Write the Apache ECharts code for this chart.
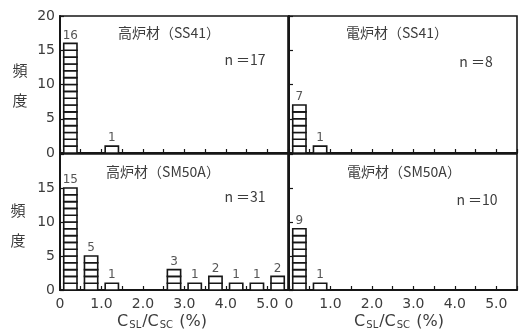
<!DOCTYPE html>
<html>
<head>
<meta charset="utf-8">
<script src="https://cdn.jsdelivr.net/npm/echarts@6/dist/echarts.min.js"></script>
<style>
  html, body { margin: 0; padding: 0; background: #fff; }
  #chart { width: 521px; height: 333px; }
</style>
</head>
<body>
<div id="chart"></div>
<script>
// Frequency per 0.5 % bin: [bin centre, count]
const blastSS41 = [[0.25, 16], [1.25, 1]];
const electricSS41 = [[0.25, 7], [0.75, 1]];
const blastSM50A = [[0.25, 15], [0.75, 5], [1.25, 1], [2.75, 3], [3.25, 1], [3.75, 2], [4.25, 1], [4.75, 1], [5.25, 2]];
const electricSM50A = [[0.25, 9], [0.75, 1]];

const panelTitles = ['高炉材（SS41）', '電炉材（SS41）', '高炉材（SM50A）', '電炉材（SM50A）'];
const sampleCounts = [17, 8, 31, 10];
const yTicks = [0, 5, 10, 15, 20];
const xLabelValues = [0, 1, 2, 3, 4, 5];

const panels = [blastSS41, electricSS41, blastSM50A, electricSM50A];

const INK = '#161616';
const TEXT = '#3c3c3c';
const FONT = '"DejaVu Sans", sans-serif';
const CJK = '"Noto Sans CJK JP", sans-serif';

const grids = [
  { left: 60, top: 16, width: 228, height: 137 },
  { left: 289, top: 16, width: 228, height: 137 },
  { left: 60, top: 154, width: 228, height: 136 },
  { left: 289, top: 154, width: 228, height: 136 }
].map(g => Object.assign(g, { show: true, borderColor: INK, borderWidth: 1.6, backgroundColor: 'transparent' }));

// Each count is drawn as one stacked box, so bars read as tally columns
function renderTally(params, api) {
  const x = api.value(0);
  const n = api.value(1);
  const hw = 0.16;
  const children = [];
  for (let k = 0; k < n; k++) {
    const a = api.coord([x - hw, k + 1]);
    const b = api.coord([x + hw, k]);
    children.push({
      type: 'rect',
      shape: { x: a[0], y: a[1], width: b[0] - a[0], height: b[1] - a[1] },
      style: { fill: '#fff', stroke: INK, lineWidth: 1.6 }
    });
  }
  const top = api.coord([x, n]);
  children.push({
    type: 'text',
    style: {
      text: String(n), x: top[0], y: top[1] - 2,
      align: 'center', verticalAlign: 'bottom',
      fill: '#555', font: '12px ' + FONT
    }
  });
  return { type: 'group', children };
}

const xAxes = grids.map((g, i) => ({
  type: 'value', gridIndex: i, min: 0, max: 5.5, interval: 0.5,
  axisLine: { show: true, lineStyle: { color: INK, width: 2 } },
  axisTick: { show: true, inside: true, length: 4, lineStyle: { color: INK, width: 1.2 } },
  splitLine: { show: false },
  axisLabel: {
    show: i >= 2, margin: 7, color: TEXT, fontSize: 14, fontFamily: FONT,
    formatter: v => xLabelValues.includes(v) ? (v === 0 ? '0' : v.toFixed(1)) : ''
  }
}));

const yAxes = grids.map((g, i) => ({
  type: 'value', gridIndex: i, min: 0, max: 20, interval: 5,
  axisLine: { show: true, lineStyle: { color: INK, width: 2 } },
  axisTick: { show: true, inside: true, length: 4, lineStyle: { color: INK, width: 1.2 } },
  splitLine: { show: false },
  axisLabel: {
    show: i % 2 === 0, margin: 5, color: TEXT, fontSize: 14, fontFamily: FONT,
    formatter: v => (i === 2 && v === 20) ? '' : (yTicks.includes(v) ? String(v) : '')
  }
}));

const series = panels.map((data, i) => ({
  type: 'custom', xAxisIndex: i, yAxisIndex: i,
  renderItem: renderTally, data, clip: false
}));

const titlePos = [[169, 33], [397, 33], [163, 172], [404, 172]];
const nPos = [[245, 60], [476, 62], [245, 197], [477, 200]];

const graphic = [];
panelTitles.forEach((t, i) => {
  graphic.push({
    type: 'text', x: titlePos[i][0], y: titlePos[i][1],
    style: { text: t, align: 'center', verticalAlign: 'middle', fill: TEXT, font: '14px ' + CJK }
  });
  graphic.push({
    type: 'text', x: nPos[i][0], y: nPos[i][1],
    style: { text: 'n ＝' + sampleCounts[i], align: 'center', verticalAlign: 'middle', fill: TEXT, font: '14px ' + CJK }
  });
});

// y-axis caption for each row
[[20, 70, 100], [18, 210, 240]].forEach(([x, y1, y2]) => {
  graphic.push({ type: 'text', x, y: y1, style: { text: '頻', align: 'center', verticalAlign: 'middle', fill: TEXT, font: '15px ' + CJK } });
  graphic.push({ type: 'text', x, y: y2, style: { text: '度', align: 'center', verticalAlign: 'middle', fill: TEXT, font: '15px ' + CJK } });
});

// x-axis caption C_SL / C_SC (%)
[162, 399].forEach(cx => {
  graphic.push({
    type: 'text', x: cx, y: 322,
    style: {
      text: '{c|C}{s|SL}{c|/C}{s|SC}{c| (%)}',
      align: 'center', verticalAlign: 'middle',
      rich: {
        c: { fontSize: 16, fontFamily: FONT, fill: TEXT, color: TEXT },
        s: { fontSize: 10, fontFamily: FONT, fill: TEXT, color: TEXT, verticalAlign: 'bottom', padding: [7, 1, 0, 1] }
      }
    }
  });
});

const chart = echarts.init(document.getElementById('chart'), null, { renderer: 'canvas' });
chart.setOption({
  backgroundColor: '#fff',
  animation: false,
  grid: grids,
  xAxis: xAxes,
  yAxis: yAxes,
  series,
  graphic
});
</script>
</body>
</html>
